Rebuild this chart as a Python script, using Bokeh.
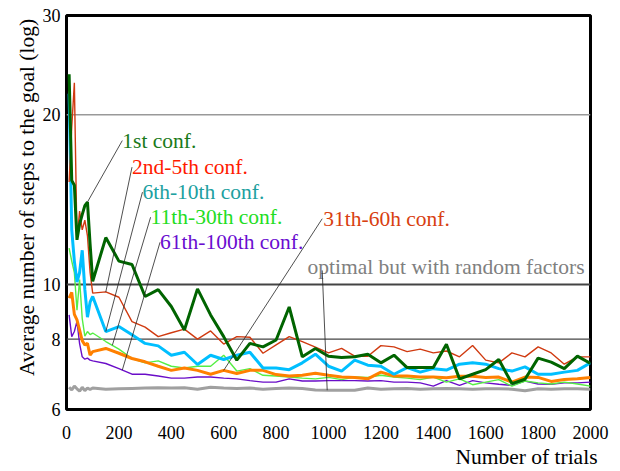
import numpy as np
from bokeh.plotting import figure
from bokeh.models import FixedTicker, Span, PrintfTickFormatter, Title
from bokeh.core.properties import value
from bokeh.embed import file_html
from bokeh.resources import INLINE

# ---------------- data ----------------
trials = [10, 20, 30, 40, 50, 60, 70, 80, 90,
          100, 150, 200, 250, 300, 350, 400, 450, 500, 550, 600, 650, 700, 750,
          800, 850, 900, 950, 1000, 1050, 1100, 1150, 1200, 1250, 1300, 1350,
          1400, 1450, 1500, 1550, 1600, 1650, 1700, 1750, 1800, 1850, 1900,
          1950, 2000]

conf_1st = [23.6, 15.3, 15.0, 12.0, 12.8, 13.3, 13.8, 14.0, 11.8,
            10.13, 12.11, 11.0, 10.85, 9.52, 9.79, 9.14, 8.30, 9.82, 8.83, 8.08,
            7.34, 7.86, 7.75, 7.97, 9.12, 7.44, 7.70, 7.46, 7.42, 7.44, 7.52,
            7.26, 7.49, 7.12, 7.12, 7.12, 7.83, 6.80, 6.93, 7.06, 7.36, 6.67,
            6.79, 7.40, 7.28, 7.09, 7.46, 7.24]

conf_2_5 = [15.2, 19.0, 22.8, 12.0, 13.5, 12.5, 13.0, 12.2, 10.5,
            9.65, 9.70, 9.49, 8.59, 8.40, 8.08, 8.21, 8.33, 8.00, 8.27, 7.84,
            8.08, 8.06, 7.55, 7.81, 8.08, 7.92, 7.74, 7.56, 7.70, 7.46, 7.46,
            7.79, 7.75, 7.60, 7.68, 7.56, 7.62, 7.44, 7.79, 7.34, 7.26, 7.56,
            7.44, 7.75, 7.56, 7.22, 7.44, 7.44]

conf_6_10 = [21.8, 12.5, 11.0, 10.1, 10.5, 11.5, 9.8, 8.75, 9.3,
             9.52, 8.25, 8.42, 8.14, 7.86, 7.78, 7.49, 7.58, 7.21, 7.49, 7.36,
             7.49, 7.58, 7.11, 7.11, 7.06, 7.26, 7.52, 7.16, 7.02, 7.34, 7.19,
             7.16, 6.93, 7.12, 6.99, 7.09, 7.05, 7.22, 7.26, 7.22, 7.09, 7.02,
             7.14, 6.93, 6.93, 6.99, 7.04, 7.26]

conf_11_30 = [11.6, 11.0, 10.5, 9.0, 10.2, 8.7, 8.1, 8.25, 8.15,
              8.2, 7.92, 7.68, 7.39, 7.26, 7.32, 7.16, 7.11, 7.16, 7.16, 7.49,
              7.02, 7.09, 6.90, 6.88, 6.85, 6.82, 6.80, 6.84, 6.78, 6.85, 6.84,
              6.90, 6.85, 6.82, 6.78, 6.85, 6.71, 6.80, 6.64, 6.71, 6.78, 6.60,
              6.74, 6.69, 6.66, 6.71, 6.66, 6.60]

conf_31_60 = [9.46, 9.68, 8.85, 8.65, 8.30, 7.95, 7.81, 7.86, 7.49,
              7.60, 7.70, 7.55, 7.39, 7.29, 7.16, 7.04, 7.11, 7.04, 6.93, 7.04,
              6.95, 7.04, 7.04, 6.92, 6.88, 6.90, 6.96, 6.90, 6.85, 6.84, 6.80,
              6.99, 6.88, 6.88, 6.85, 6.85, 6.83, 6.87, 6.87, 6.84, 6.85, 6.71,
              6.85, 6.84, 6.73, 6.78, 6.80, 6.84]

conf_61_100 = [8.83, 8.08, 8.25, 8.6, 7.85, 7.44, 7.37, 7.40, 7.34,
               7.32, 7.24, 7.09, 6.93, 6.93, 6.88, 6.82, 6.82, 6.85, 6.85, 6.82,
               6.80, 6.75, 6.71, 6.71, 6.80, 6.74, 6.74, 6.75, 6.75, 6.75, 6.74,
               6.75, 6.71, 6.71, 6.69, 6.60, 6.75, 6.62, 6.75, 6.69, 6.65, 6.62,
               6.74, 6.66, 6.65, 6.69, 6.69, 6.71]

optimal = [6.57, 6.50, 6.60, 6.53, 6.47, 6.57, 6.48, 6.55, 6.51,
           6.55, 6.52, 6.53, 6.54, 6.55, 6.56, 6.55, 6.56, 6.52, 6.57, 6.55,
           6.54, 6.55, 6.52, 6.54, 6.55, 6.54, 6.50, 6.49, 6.49, 6.49, 6.55,
           6.52, 6.53, 6.54, 6.52, 6.53, 6.54, 6.53, 6.52, 6.53, 6.53, 6.52,
           6.48, 6.53, 6.52, 6.53, 6.53, 6.52]

x_ticks = [0, 200, 400, 600, 800, 1000, 1200, 1400, 1600, 1800, 2000]
y_ticks = [6, 8, 10, 20, 30]

label_texts = ["1st conf.", "2nd-5th conf.", "6th-10th conf.", "11th-30th conf.",
               "61th-100th conf.", "31th-60h conf.", "optimal but with random factors"]

for s in (conf_1st, conf_2_5, conf_6_10, conf_11_30, conf_31_60, conf_61_100, optimal):
    assert len(s) == len(trials)

FONT = "Liberation Serif"

# ---------------- figure ----------------
p = figure(width=620, height=471, y_axis_type="log",
           x_range=(0, 2000), y_range=(6, 30),
           output_backend="svg", toolbar_location=None,
           min_border_left=66, min_border_right=30,
           min_border_top=15, min_border_bottom=62)
p.background_fill_color = "white"
p.border_fill_color = "white"
p.outline_line_color = "black"
p.outline_line_width = 3
p.xgrid.visible = False
p.ygrid.visible = False

for axs in (p.xaxis, p.yaxis):
    axs.axis_line_color = None
    axs.major_tick_line_color = None
    axs.minor_tick_line_color = None
    axs.major_tick_out = 0
    axs.major_tick_in = 0
    axs.minor_tick_out = 0
    axs.minor_tick_in = 0
    axs.major_label_text_font = FONT
    axs.major_label_text_font_size = "18px"
    axs.major_label_text_color = "black"

p.xaxis.ticker = FixedTicker(ticks=x_ticks)
p.yaxis.ticker = FixedTicker(ticks=y_ticks)
p.yaxis.formatter = PrintfTickFormatter(format="%d")
p.xaxis.major_label_standoff = 16
p.yaxis.major_label_standoff = 6

# axis titles as panel titles (allow right alignment)
p.add_layout(Title(text="Number of trials", align="right", offset=-7, standoff=2,
                   text_font=FONT, text_font_size="21.5px", text_font_style="normal",
                   text_color="black"), "below")
p.add_layout(Title(text="Average number of steps  to the goal (log)", align="right",
                   offset=-2, standoff=2,
                   text_font=FONT, text_font_size="21.5px", text_font_style="normal",
                   text_color="black"), "left")

# horizontal reference lines
p.add_layout(Span(location=20, dimension="width", line_color="#999999", line_width=1.5, level="underlay"))
p.add_layout(Span(location=10, dimension="width", line_color="#444444", line_width=2, level="underlay"))
p.add_layout(Span(location=8, dimension="width", line_color="#444444", line_width=1.2, level="underlay"))

# ---------------- lines ----------------
p.line(trials, optimal, line_color="#a0a0a0", line_width=3)
p.line(trials, conf_61_100, line_color="#6a0dc8", line_width=1.4)
p.line(trials, conf_11_30, line_color="#55ee44", line_width=1.4)
p.line(trials, conf_31_60, line_color="#ff8000", line_width=3)
p.line(trials, conf_6_10, line_color="#00bfff", line_width=3)
p.line(trials, conf_2_5, line_color="#d03a10", line_width=1.4)
p.line(trials, conf_1st, line_color="#006400", line_width=3)

# ---------------- annotations ----------------
def at(series, x):
    return float(np.exp(np.interp(x, trials, np.log(series))))

lab_x = [213, 250, 290, 321, 357, 980, 920]
lab_y = [18.0, 16.15, 14.58, 13.16, 11.88, 13.08, 10.74]
lab_col = ["#1a7a1a", "#ff1a00", "#20a0a0", "#22dd22", "#6a0dd0", "#d84010", "#808080"]

p.text(x=lab_x, y=lab_y, text=label_texts, text_color=lab_col,
       text_font=value(FONT), text_font_size="21.5px",
       text_align="left", text_baseline="alphabetic")

lead_x0 = [213, 250, 290, 321, 357, 976, 976]
lead_y0 = [18.0, 16.15, 14.58, 13.16, 11.88, 13.08, 10.59]
lead_x1 = [80, 150, 150, 175, 213, 600, 995]
lead_src = [conf_1st, conf_2_5, conf_6_10, conf_11_30, conf_61_100, conf_31_60, optimal]
lead_y1 = [at(s, x) for s, x in zip(lead_src, lead_x1)]
p.segment(x0=lead_x0, y0=lead_y0, x1=lead_x1, y1=lead_y1,
          line_color="#222222", line_width=0.8)

open("out.html", "w").write(file_html(p, INLINE))
